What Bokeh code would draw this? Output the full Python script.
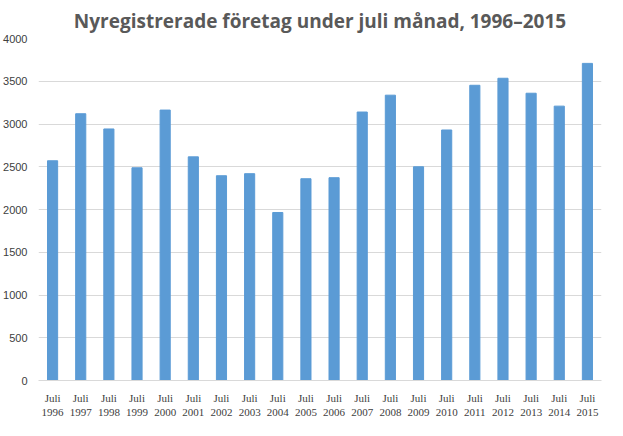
from bokeh.plotting import figure
from bokeh.models import FixedTicker, Range1d, Title
from bokeh.embed import file_html
from bokeh.resources import INLINE

years = list(range(1996, 2016))
values = [2570, 3120, 2942, 2488, 3163, 2616, 2395, 2419, 1965, 2360,
          2372, 3140, 3337, 2500, 2930, 3453, 3535, 3360, 3209, 3709]
labels = {y: "Juli\n%d" % y for y in years}

p = figure(width=605, height=420, output_backend="svg", toolbar_location=None,
           x_range=Range1d(1995.5, 2015.5), y_range=Range1d(0, 4000),
           min_border_left=30, min_border_right=4, min_border_top=14, min_border_bottom=6)
p.add_layout(Title(text="Nyregistrerade företag under juli månad, 1996–2015", align="center",
                   text_font="Open Sans", text_font_size="19px", text_font_style="bold",
                   text_color="#595959"), "above")
p.vbar(x=years, top=values, width=0.36, color="#5b9bd5")
p.xaxis.ticker = FixedTicker(ticks=years)
p.xaxis.major_label_overrides = labels
p.yaxis.ticker = FixedTicker(ticks=list(range(0, 4001, 500)))
for ax in (p.xaxis, p.yaxis):
    ax.axis_line_color = None
    ax.major_tick_line_color = None
    ax.minor_tick_line_color = None
    ax.major_label_text_font = "Liberation Serif"
    ax.major_label_text_font_size = "11px"
    ax.major_label_text_color = "#404040"
p.yaxis.major_label_text_font = "Liberation Sans"
p.xaxis.axis_line_color = "#d9d9d9"
p.xgrid.grid_line_color = None
p.ygrid.grid_line_color = "#d9d9d9"
p.outline_line_color = None
p.border_fill_color = "white"

open("out.html", "w").write(file_html(p, INLINE))
